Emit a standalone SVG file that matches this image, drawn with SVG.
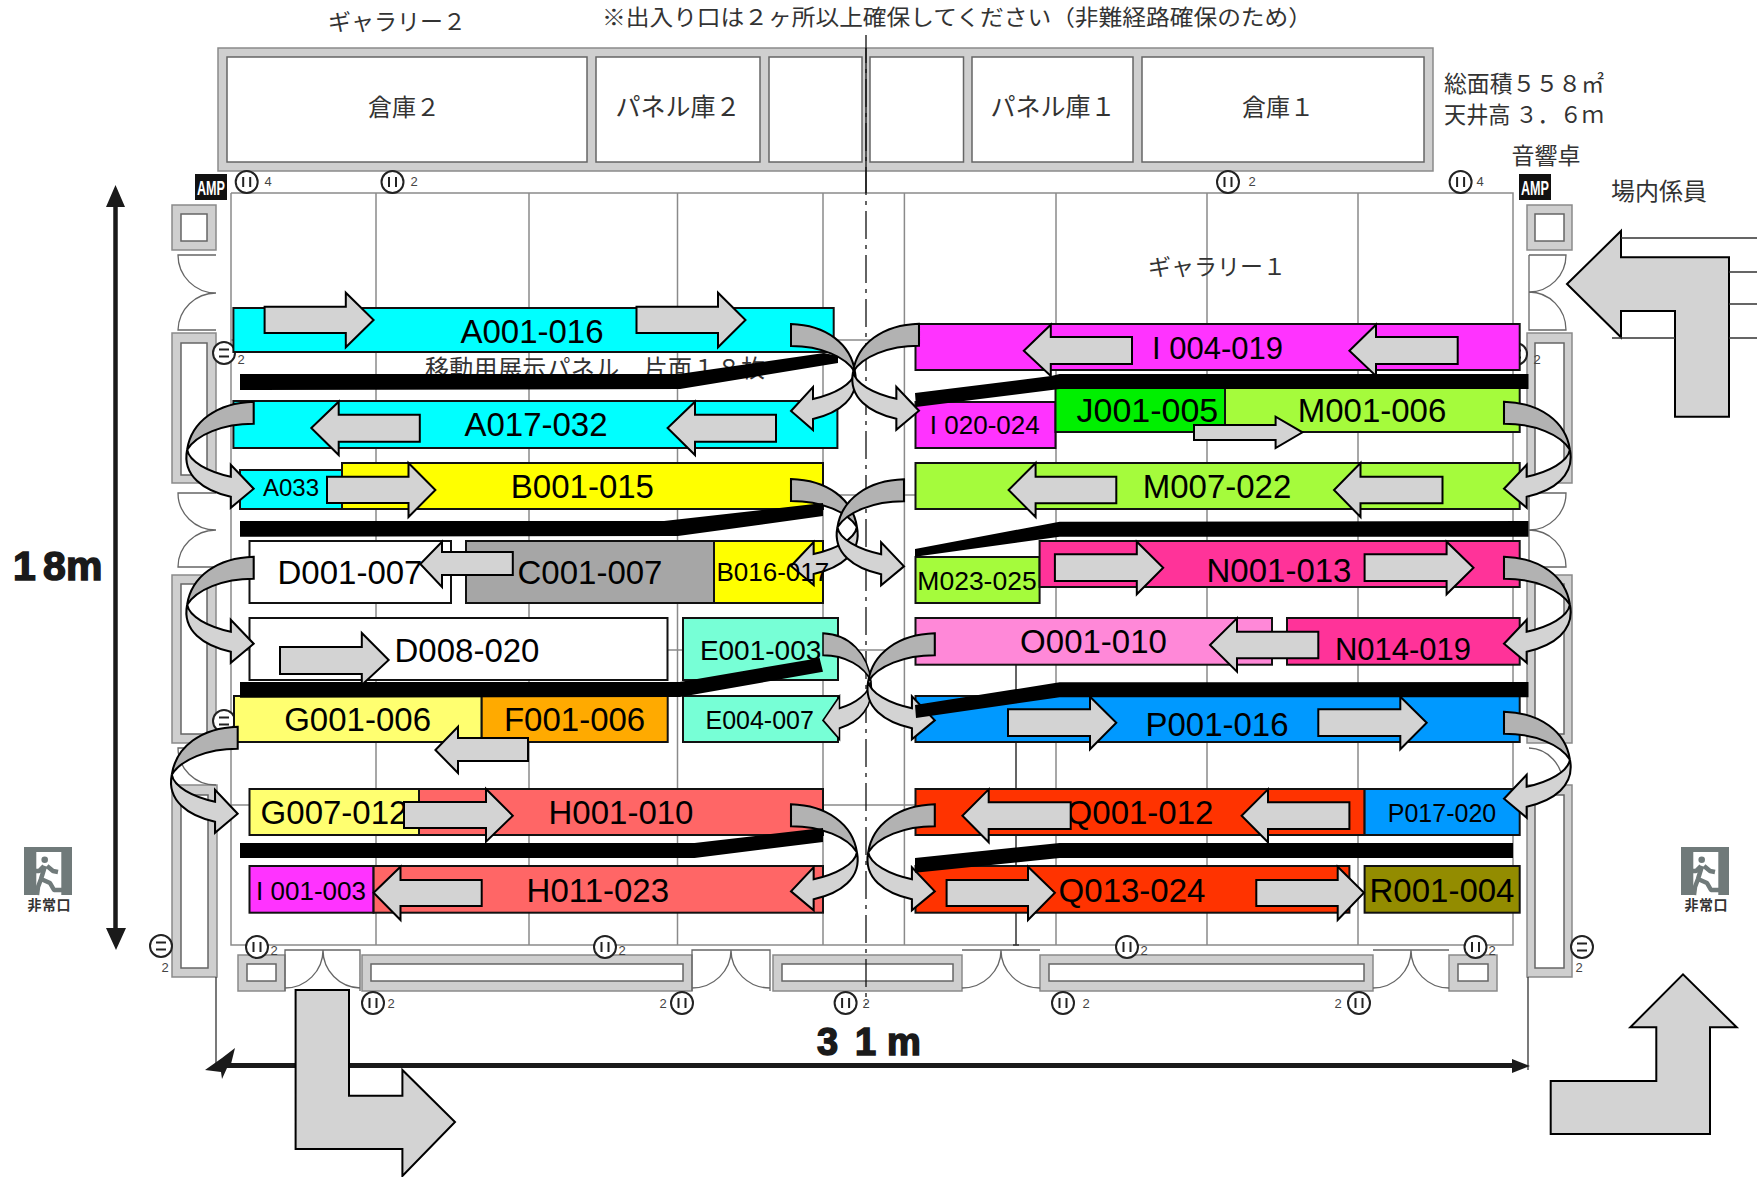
<svg xmlns="http://www.w3.org/2000/svg" xmlns:xlink="http://www.w3.org/1999/xlink" width="1758" height="1177" viewBox="0 0 1758 1177">
<style>
.wall{fill:#cfcfcf;stroke:#8a8a8a;stroke-width:1.5}
.in{fill:#fff;stroke:#666;stroke-width:1.5}
.grid{fill:none;stroke:#8a8a8a;stroke-width:1.5}
.thin{fill:none;stroke:#666;stroke-width:1.3}
.ln{fill:none;stroke:#333;stroke-width:1.5}
.bar{stroke:#111;stroke-width:2}
.t{font-family:"Liberation Sans",Arial,sans-serif;font-size:33px;fill:#000;text-anchor:middle;transform:translateY(1px)}
.j{font-family:"Noto Sans CJK JP","Noto Sans",sans-serif;font-size:23px;fill:#333;text-anchor:middle}
.n{font-family:"Liberation Sans",Arial,sans-serif;font-size:13px;fill:#444;text-anchor:middle}
.arw{fill:#d3d3d3;stroke:#000;stroke-width:2;stroke-linejoin:miter}
.dark{fill:#b2b2b2;stroke:#000;stroke-width:2}
.light{fill:#d3d3d3;stroke:#000;stroke-width:2}
.blk{fill:#000}
.o{fill:#fff;stroke:#222;stroke-width:2}
.ob{fill:none;stroke:#222;stroke-width:2}
.dim{font-family:"Liberation Sans",Arial,sans-serif;font-weight:700;fill:#1a1a1a;stroke:#1a1a1a;stroke-width:1.500}
.amp{font-family:"Liberation Sans",Arial,sans-serif;font-weight:700;font-size:21px;fill:#fff;text-anchor:middle}
.fig{fill:none;stroke:#707a7a;stroke-width:4.500;stroke-linejoin:round}
</style>
<defs>
<g id="uturn">
<path class="light" d="M64,48 C62,60 44,70 22,75 L22,63 L0,87 L22,106 L22,95 C48,89 69,74 64,48 Z"/>
<path class="dark" d="M0,0 C35,1 60,20 64,48 C55,33 30,22 0,22 Z"/>
</g>
<g id="outV"><circle class="o" r="11"/><path class="ob" d="M-3.5,-5V5M3.5,-5V5"/></g>
<g id="outH"><circle class="o" r="11"/><path class="ob" d="M-5,-3.5H5M-5,3.5H5"/></g>
<g id="amp"><rect width="32" height="26" fill="#111"/><text class="amp" x="16" y="21" textLength="28" lengthAdjust="spacingAndGlyphs">AMP</text></g>
<g id="exit">
<rect width="48" height="48" fill="#707a7a"/>
<rect x="12.300" y="5" width="25" height="43" fill="#fff"/>
<circle cx="20.700" cy="12.700" r="3.300" fill="#707a7a"/>
<path class="fig" d="M21,19L17,32M20,19L15,24H12M23,19L29,24L34,25M17,32L14,40L13,48M17,32L26,36L30,43H38"/>
<text class="j" x="25" y="63" style="font-size:14px;font-weight:700" textLength="43">非常口</text>
</g>
</defs>
<rect width="1758" height="1177" fill="#fff"/>

<g id="texts-top">
<text class="j" x="397" y="30">ギャラリー２</text>
<text class="j" x="957" y="25" style="font-size:22px" textLength="710" lengthAdjust="spacingAndGlyphs">※出入り口は２ヶ所以上確保してください（非難経路確保のため）</text>
<text class="j" x="1524" y="92" textLength="160" lengthAdjust="spacingAndGlyphs">総面積５５８㎡</text>
<text class="j" x="1524" y="123" textLength="160" lengthAdjust="spacingAndGlyphs">天井高 ３．６ｍ</text>
<text class="j" x="1546" y="164">音響卓</text>
<text class="j" x="1659" y="200" style="font-size:24px">場内係員</text>
</g>

<g id="storage">
<rect class="wall" x="218" y="48" width="1215" height="123"/>
<rect class="in" x="227" y="57" width="360" height="105"/>
<rect class="in" x="596" y="57" width="164" height="105"/>
<rect class="in" x="769" y="57" width="93" height="105"/>
<rect class="in" x="870" y="57" width="93.500" height="105"/>
<rect class="in" x="972" y="57" width="161" height="105"/>
<rect class="in" x="1142" y="57" width="282" height="105"/>
<text class="j" x="404" y="116" style="font-size:24px">倉庫２</text>
<text class="j" x="678" y="116" style="font-size:25px">パネル庫２</text>
<text class="j" x="1053" y="116" style="font-size:25px">パネル庫１</text>
<text class="j" x="1278" y="116" style="font-size:24px">倉庫１</text>
</g>

<g id="room">
<path class="grid" d="M231,193V945H1513V193H231"/>
<path class="grid" d="M376,193V945M529,193V945M677.500,193V945M823,193V945M904.400,193V945M1056,193V945M1207,193V945M1358,193V945"/>
<path class="ln" d="M1016,665V945M1013,945H1019"/>
<path class="grid" d="M231,340H1513M231,495H1513M231,650H1513M231,805H1513"/>
<text class="j" x="1217" y="275">ギャラリー１</text>
<text class="j" x="595" y="377" style="font-size:24px" textLength="340">移動用展示パネル　片面１８枚</text>
</g>

<g id="walls">
<rect class="wall" x="172" y="205" width="44" height="45"/><rect class="in" x="181" y="214" width="26" height="27"/>
<rect class="wall" x="172" y="333" width="44" height="150"/><rect class="in" x="181" y="343" width="26" height="132"/>
<rect class="wall" x="172" y="575" width="44" height="168"/><rect class="in" x="181" y="584" width="26" height="150"/>
<rect class="wall" x="172" y="785" width="45" height="192"/><rect class="in" x="181" y="795" width="27" height="173"/>
<rect class="wall" x="1527" y="205" width="45" height="45"/><rect class="in" x="1535" y="214" width="29" height="27"/>
<rect class="wall" x="1527" y="333" width="45" height="150"/><rect class="in" x="1535" y="343" width="29" height="132"/>
<rect class="wall" x="1527" y="575" width="45" height="168"/><rect class="in" x="1535" y="584" width="29" height="150"/>
<rect class="wall" x="1527" y="785" width="45" height="192"/><rect class="in" x="1535" y="795" width="29" height="173"/>
<rect class="wall" x="238" y="955" width="47" height="36"/><rect class="in" x="247" y="964" width="29" height="17"/>
<rect class="wall" x="362" y="955" width="330" height="36"/><rect class="in" x="371" y="964" width="312" height="17"/>
<rect class="wall" x="773" y="955" width="189" height="36"/><rect class="in" x="782" y="964" width="171" height="17"/>
<rect class="wall" x="1040" y="955" width="333" height="36"/><rect class="in" x="1049" y="964" width="315" height="17"/>
<rect class="wall" x="1449" y="955" width="48" height="36"/><rect class="in" x="1458" y="964" width="30" height="17"/>
<path class="thin" d="M216,255H178A38,38 0 0 0 216,293A38,38 0 0 0 178,330H216"/>
<path class="thin" d="M216,493H178A38,37 0 0 0 216,530A38,37 0 0 0 178,567H216"/>
<path class="thin" d="M216,748H178A38,37 0 0 0 216,785"/>
<path class="thin" d="M1529,255H1566A37,37 0 0 1 1529,292A37,38 0 0 1 1566,330H1529V255"/>
<path class="thin" d="M1529,493H1566A37,37 0 0 1 1529,530A37,37 0 0 1 1566,567H1529V493"/>
<path class="thin" d="M1529,748A35,37 0 0 1 1563,785"/>
<path class="thin" d="M285,991V950H360V991M285,988A38,38 0 0 0 323,950A38,38 0 0 0 360,988"/>
<path class="thin" d="M692,991V950H770V991M692,988A39,38 0 0 0 731,950A39,38 0 0 0 770,988"/>
<path class="thin" d="M962,988A39,38 0 0 0 1001,950A39,38 0 0 0 1040,988M962,950H1040"/>
<path class="thin" d="M1373,988A38,38 0 0 0 1411,950A38,38 0 0 0 1449,988M1373,950H1449"/>
<path d="M216,977V1070M1528,977V1070" fill="none" stroke="#333" stroke-width="1.3"/>
</g>

<g id="center-line">
<path d="M866,35V1005" fill="none" stroke="#111" stroke-width="1.3" stroke-dasharray="28 6 4 6"/>
<path d="M866,48V193" fill="none" stroke="#111" stroke-width="1.3"/>
</g>

<g id="equipment">
<use href="#amp" x="195" y="174"/>
<use href="#amp" x="1519" y="174"/>
<use href="#outV" x="246.700" y="182"/><text class="n" x="268" y="186">4</text>
<use href="#outV" x="392.500" y="182"/><text class="n" x="414" y="186">2</text>
<use href="#outV" x="1228" y="182"/><text class="n" x="1252" y="186">2</text>
<use href="#outV" x="1460.600" y="182"/><text class="n" x="1480" y="186">4</text>
<use href="#outH" x="224" y="353"/><text class="n" x="241" y="364">2</text>
<use href="#outH" x="224" y="721"/>
<use href="#outH" x="1516" y="354"/><text class="n" x="1537" y="364">2</text>
<use href="#outH" x="161" y="946"/><text class="n" x="165" y="972">2</text>
<use href="#outH" x="1582" y="947"/><text class="n" x="1579" y="972">2</text>
<use href="#outV" x="257" y="947"/><text class="n" x="274" y="955">2</text>
<use href="#outV" x="605" y="947"/><text class="n" x="622" y="955">2</text>
<use href="#outV" x="1127" y="947"/><text class="n" x="1144" y="955">2</text>
<use href="#outV" x="1475.500" y="947"/><text class="n" x="1492" y="955">2</text>
<use href="#outV" x="373" y="1003"/><text class="n" x="391" y="1008">2</text>
<use href="#outV" x="682" y="1003"/><text class="n" x="663" y="1008">2</text>
<use href="#outV" x="845.600" y="1003"/><text class="n" x="866" y="1008">2</text>
<use href="#outV" x="1063" y="1003"/><text class="n" x="1086" y="1008">2</text>
<use href="#outV" x="1359" y="1003"/><text class="n" x="1338" y="1008">2</text>
<use href="#exit" x="24" y="847"/>
<use href="#exit" x="1681" y="847"/>
</g>

<g id="dimensions">
<path d="M115.500,200V935" stroke="#1a1a1a" stroke-width="4.500"/>
<path d="M115.500,185L125,207H106Z M116,950L106,928H126Z" fill="#1a1a1a"/>
<text class="dim" x="13 43 66" y="580" style="font-size:41px">18m</text>
<path d="M215,1065.500H1515" stroke="#1a1a1a" stroke-width="5"/>
<path d="M1530,1066L1512,1059V1073Z" fill="#1a1a1a"/>
<path d="M205,1070L222,1058L235,1048L231,1064L227,1068L222,1079L221,1072Z" fill="#1a1a1a"/>
<text class="dim" x="817 855 887" y="1055" style="font-size:38px">31m</text>
</g>

<g id="big-arrows">
<polygon class="arw" points="1567,284 1621,231 1621,257.300 1729,257.300 1729,416.700 1675,416.700 1675,311 1621,311 1621,337.300"/>
<path class="ln" d="M1621,238H1757M1729,272H1757M1729,304H1757M1729,338H1757M1612,338H1675"/>
<polygon class="arw" points="295.600,990 349,990 349,1095.700 402.400,1095.700 402.400,1070 455,1122 402.400,1176 402.400,1149 295.600,1149"/>
<polygon class="arw" points="1550.700,1134 1550.700,1081 1656.300,1081 1656.300,1027.300 1630.300,1027.300 1683,974.300 1736.700,1027.300 1710,1027.300 1710,1134"/>
</g>

<g id="bars">
<g id="A001-016"><rect class="bar" x="233.400" y="308" width="600.300" height="44" fill="#00ffff"/><text class="t" x="532" y="342">A001-016</text></g>
<g id="A017-032"><rect class="bar" x="233.400" y="401" width="604" height="47" fill="#00ffff"/><text class="t" x="536" y="435">A017-032</text></g>
<g id="A033"><rect class="bar" x="240" y="470" width="102" height="39" fill="#00ffff"/><text class="t" x="291" y="495" style="font-size:24px">A033</text></g>
<g id="B001-015"><rect class="bar" x="342" y="463" width="481" height="46" fill="#ffff00"/><text class="t" x="582.400" y="497">B001-015</text></g>
<g id="D001-007"><rect class="bar" x="249.500" y="541" width="201.500" height="62" fill="#fff"/><text class="t" x="350" y="583">D001-007</text></g>
<g id="C001-007"><rect class="bar" x="466" y="541" width="248" height="62" fill="#a6a6a6"/><text class="t" x="590" y="583">C001-007</text></g>
<g id="B016-017"><rect class="bar" x="714" y="541" width="109" height="62" fill="#ffff00"/></g>
<g id="D008-020"><rect class="bar" x="249.500" y="618" width="418" height="62" fill="#fff"/><text class="t" x="467" y="661">D008-020</text></g>
<g id="E001-003"><rect class="bar" x="683" y="618" width="155" height="62" fill="#77ffd6"/><text class="t" x="760.600" y="659" style="font-size:28px">E001-003</text></g>
<g id="G001-006"><rect class="bar" x="234" y="696" width="247.700" height="46" fill="#ffff70"/><text class="t" x="357.600" y="730">G001-006</text></g>
<g id="F001-006"><rect class="bar" x="481.700" y="696" width="186" height="46" fill="#ffaa00"/><text class="t" x="574.600" y="730">F001-006</text></g>
<g id="E004-007"><rect class="bar" x="683" y="696" width="155" height="46" fill="#77ffd6"/><text class="t" x="759.700" y="728" style="font-size:25px">E004-007</text></g>
<g id="G007-012"><rect class="bar" x="249.500" y="789" width="169.500" height="46" fill="#ffff70"/><text class="t" x="334" y="823">G007-012</text></g>
<g id="H001-010"><rect class="bar" x="419" y="789" width="404" height="46" fill="#ff6666"/><text class="t" x="621" y="823">H001-010</text></g>
<g id="I001-003"><rect class="bar" x="249.500" y="866" width="124" height="46.700" fill="#ff33ff"/><text class="t" x="311" y="899" style="font-size:26px">I 001-003</text></g>
<g id="H011-023"><rect class="bar" x="373.600" y="866" width="449.400" height="46.700" fill="#ff6666"/><text class="t" x="597.800" y="901">H011-023</text></g>

<g id="I004-019"><rect class="bar" x="915.500" y="324" width="604.200" height="46" fill="#ff33ff"/><text class="t" x="1217.600" y="358" style="font-size:31px">I 004-019</text></g>
<g id="I020-024"><rect class="bar" x="915.500" y="402" width="140" height="46" fill="#ff33ff"/><text class="t" x="984.800" y="433" style="font-size:26px">I 020-024</text></g>
<g id="J001-005"><rect class="bar" x="1055.500" y="387" width="169.500" height="45" fill="#00f000"/><text class="t" x="1147.400" y="421" style="font-size:34px">J001-005</text></g>
<g id="M001-006"><rect class="bar" x="1225" y="387" width="294.700" height="45" fill="#a5fb3c"/><text class="t" x="1372" y="421">M001-006</text></g>
<g id="M007-022"><rect class="bar" x="915.500" y="463" width="604.200" height="46" fill="#a5fb3c"/><text class="t" x="1217" y="497">M007-022</text></g>
<g id="M023-025"><rect class="bar" x="915.500" y="557" width="124.100" height="46" fill="#a5fb3c"/><text class="t" x="977" y="589" style="font-size:26.500px">M023-025</text></g>
<g id="N001-013"><rect class="bar" x="1039.600" y="541" width="480.100" height="46" fill="#ff3399"/><text class="t" x="1279" y="581">N001-013</text></g>
<g id="O001-010"><rect class="bar" x="915.500" y="618" width="356.500" height="46.700" fill="#ff88d8"/><text class="t" x="1093.500" y="652">O001-010</text></g>
<g id="N014-019"><rect class="bar" x="1287" y="618" width="232.700" height="46.700" fill="#ff3399"/><text class="t" x="1403" y="659" style="font-size:31px">N014-019</text></g>
<g id="P001-016"><rect class="bar" x="915.500" y="696" width="604.200" height="46" fill="#0099ff"/><text class="t" x="1217" y="735">P001-016</text></g>
<g id="Q001-012"><rect class="bar" x="915.500" y="789" width="449.100" height="46" fill="#ff3300"/><text class="t" x="1140" y="823">Q001-012</text></g>
<g id="P017-020"><rect class="bar" x="1364.600" y="789" width="155.100" height="46" fill="#0099ff"/><text class="t" x="1442" y="821" style="font-size:25px">P017-020</text></g>
<g id="Q013-024"><rect class="bar" x="915.500" y="866" width="433.900" height="46.700" fill="#ff3300"/><text class="t" x="1132" y="901">Q013-024</text></g>
<g id="R001-004"><rect class="bar" x="1364.600" y="866" width="155.100" height="46.700" fill="#938c00"/><text class="t" x="1442" y="901">R001-004</text></g>
</g>

<g id="connectors">
<use href="#uturn" transform="translate(791,324)"/>
<use href="#uturn" transform="translate(791,479) scale(1.03,1)"/>
<use href="#uturn" transform="translate(823,633.300) scale(0.75,1)"/>
<use href="#uturn" transform="translate(791,804.300) scale(1.03,1)"/>
<use href="#uturn" transform="translate(919,323.700) scale(-1.03,1)"/>
<use href="#uturn" transform="translate(904,479.300) scale(-1.04,1)"/>
<use href="#uturn" transform="translate(934.800,633.300) scale(-1.04,1)"/>
<use href="#uturn" transform="translate(934.800,804.300) scale(-1.04,1)"/>
<use href="#uturn" transform="translate(253.700,401.700) scale(-1.04,1)"/>
<use href="#uturn" transform="translate(253.700,556.700) scale(-1.04,1)"/>
<use href="#uturn" transform="translate(237.700,726.700) scale(-1.03,1)"/>
<use href="#uturn" transform="translate(1504,401.700) scale(1.03,1)"/>
<use href="#uturn" transform="translate(1504,556.700) scale(1.03,1)"/>
<use href="#uturn" transform="translate(1504,711.700) scale(1.03,1)"/>
</g>

<g id="panels">
<polygon class="blk" points="240,374 679,374 824,353 838,356 838,363 680,389 240,390"/>
<polygon class="blk" points="240,521 664,521 823,503 823,516 678,536 240,536.700"/>
<polygon class="blk" points="240,682 679.500,682 819.600,658 823,671.700 680,697 240,697.700"/>
<polygon class="blk" points="240,843 694.500,843 823,828 823,842 694.500,858 240,858"/>
<polygon class="blk" points="1528.500,374 1059.600,374 1051,376 915,393 916,407 1059.600,389 1528.500,389"/>
<polygon class="blk" points="1528.500,521 1059.600,521.700 915,549 915,556.700 1059.600,536.700 1528.500,536.700"/>
<polygon class="blk" points="1528.500,682 1059.600,682.300 915,705 916,718 1059.600,697.300 1528.500,697.300"/>
<polygon class="blk" points="1513,843 1059.600,843 915,858 915,872.700 1059.600,858 1513,858"/>
</g>

<g id="flow-arrows">
<polygon class="arw" points="264.600,306.700 345.800,306.700 345.800,292.700 373.600,320 345.800,347.300 345.800,333 264.600,333"/>
<polygon class="arw" points="636.500,306.700 718,306.700 718,292.700 745.500,320 718,347.300 718,333 636.500,333"/>
<polygon class="arw" points="776,414.700 695,414.700 695,401.700 667.600,428 695,455 695,441.700 776,441.700"/>
<polygon class="arw" points="419.800,414.700 338.700,414.700 338.700,401.700 311.300,428 338.700,455 338.700,441.700 419.800,441.700"/>
<polygon class="arw" points="327,476.700 408.500,476.700 408.500,463 435.400,490 408.500,517 408.500,503 327,503"/>
<polygon class="arw" points="512.800,552 442,552 442,541.700 420.300,564 442,587 442,575 512.800,575"/>
<polygon class="arw" points="280,647 361.800,647 361.800,633 388.700,660 361.800,685 361.800,674 280,674"/>
<polygon class="arw" points="528,738 458,738 458,726.700 435.400,750 458,773 458,761 528,761"/>
<polygon class="arw" points="404,802 486,802 486,789 512.800,815.700 486,841.700 486,828 404,828"/>
<polygon class="arw" points="481.700,880 400.500,880 400.500,866.700 373.600,892.700 400.500,920 400.500,906 481.700,906"/>
<polygon class="arw" points="1132,337 1050.800,337 1050.800,324.700 1023.800,350.700 1050.800,376 1050.800,364 1132,364"/>
<polygon class="arw" points="1457.700,337 1376,337 1376,324.700 1349.400,350.700 1376,376 1376,364 1457.700,364"/>
<polygon class="arw" points="1194,425 1275.600,425 1275.600,416.700 1302.500,432.300 1275.600,448 1275.600,440 1194,440"/>
<polygon class="arw" points="1116.300,476.700 1035.600,476.700 1035.600,463 1008.600,490 1035.600,517 1035.600,503.300 1116.300,503.300"/>
<polygon class="arw" points="1442.500,476.700 1360.500,476.700 1360.500,463 1334,490 1360.500,517 1360.500,503.300 1442.500,503.300"/>
<polygon class="arw" points="1054.900,554.300 1136.800,554.300 1136.800,541.700 1163.200,567.700 1136.800,594.300 1136.800,581 1054.900,581"/>
<polygon class="arw" points="1364.600,554.300 1446.600,554.300 1446.600,541.700 1473.500,567.700 1446.600,594.300 1446.600,581 1364.600,581"/>
<polygon class="arw" points="1318.300,631.700 1237,631.700 1237,618.300 1210,645 1237,671.700 1237,658.300 1318.300,658.300"/>
<polygon class="arw" points="1008,709.300 1090,709.300 1090,696.700 1116.300,722.700 1090,749.300 1090,736 1008,736"/>
<polygon class="arw" points="1318.300,709.300 1400.300,709.300 1400.300,696.700 1426.700,722.700 1400.300,749.300 1400.300,736 1318.300,736"/>
<polygon class="arw" points="1070.700,802.300 988.700,802.300 988.700,789.300 962.400,815.700 988.700,842.300 988.700,829 1070.700,829"/>
<polygon class="arw" points="1349.400,802.300 1268,802.300 1268,789.300 1241.600,815.700 1268,842.300 1268,829 1349.400,829"/>
<polygon class="arw" points="946.600,880 1028,880 1028,866.700 1054.900,892.700 1028,920 1028,906 946.600,906"/>
<polygon class="arw" points="1256.300,880 1337.700,880 1337.700,866.700 1364,892.700 1337.700,920 1337.700,906 1256.300,906"/>
</g>
<text class="t" x="772.800" y="580" style="font-size:26px">B016-017</text>
</svg>
